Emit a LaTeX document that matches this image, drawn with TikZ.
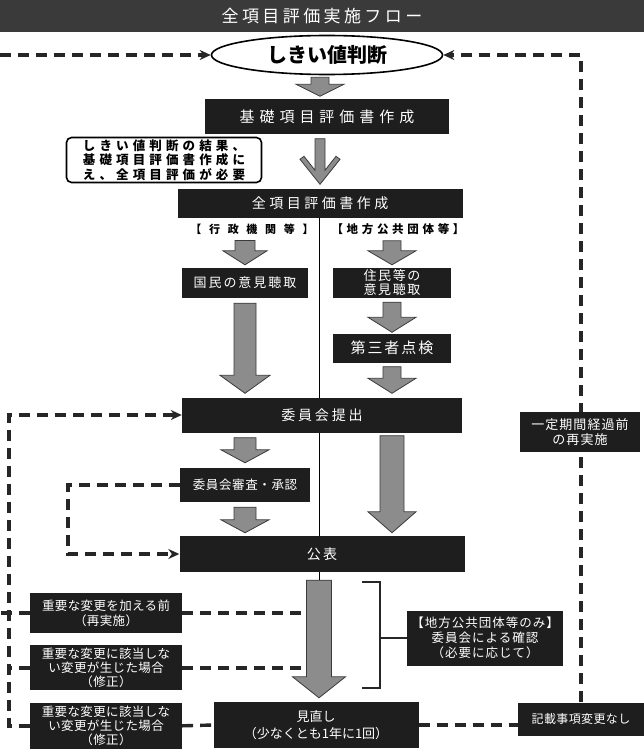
\documentclass[tikz,border=0pt]{standalone}
\usepackage{fontspec}
\newfontfamily\jp{Noto Sans CJK JP}
\newcommand{\jpfont}[3]{\jp\fontsize{#1pt}{#2pt}\selectfont\addfontfeature{LetterSpace=#3}}
\newcommand{\jpbfont}[3]{\jp\bfseries\fontsize{#1pt}{#2pt}\selectfont\addfontfeature{LetterSpace=#3}}
\usetikzlibrary{positioning,shapes.geometric,arrows.meta,backgrounds,calc}
\definecolor{boxblack}{HTML}{1E1E1E}
\definecolor{barblack}{HTML}{3A3A3A}
\definecolor{arrowgray}{HTML}{8C8C8C}
\definecolor{arrowline}{HTML}{3A3A3A}
\tikzset{blackbox/.style={rectangle,fill=boxblack,text=white,inner sep=0pt,align=center,font=\jpfont{13}{15}{12}},
	 titlebar/.style={rectangle,fill=barblack,text=white,inner sep=0pt,minimum width=644pt,minimum height=32pt,font=\jpfont{17}{20}{20}},
	 judge/.style={ellipse,draw,line width=1.6pt,fill=white,inner sep=0pt,minimum width=231pt,minimum height=39pt,font=\jpbfont{20}{24}{0}},
	 notebox/.style={rectangle,draw,line width=1.6pt,rounded corners=5pt,fill=white,inner sep=0pt,minimum width=195pt,minimum height=45pt,align=left,font=\jpbfont{12.5}{14.5}{33}},
	 headlabel/.style={inner sep=0pt,font=\jpbfont{11}{13}{40}},
	 flow/.style={line width=3.4pt,dash pattern=on 11pt off 7pt,black!85},
	 flowarrow/.style={flow,-{Stealth[length=11pt,width=10pt]}},
	 bracket/.style={line width=1.6pt,black!85},
	 fatarrow/.style n args={3}{draw=arrowline,fill=arrowgray,line width=0.8pt,
	   to path={let \p1=(\tikztostart),\p2=(\tikztotarget) in
	     (\x1-#1pt,\y1) -- (\x1+#1pt,\y1) -- (\x1+#1pt,\y2+#3pt) -- (\x1+#2pt,\y2+#3pt)
	     -- (\x1,\y2) -- (\x1-#2pt,\y2+#3pt) -- (\x1-#1pt,\y2+#3pt) -- cycle}},
	 chevarrow/.style={draw=arrowline,fill=arrowgray,line width=0.8pt,
	   to path={let \p1=(\tikztostart),\p2=(\tikztotarget) in
	     (\x1-5pt,\y1) -- (\x1+5pt,\y1) -- (\x1+5pt,\y2+14pt) -- (\x1+16pt,\y2+28pt) -- (\x1+20pt,\y2+25pt)
	     -- (\x1,\y2) -- (\x1-20pt,\y2+25pt) -- (\x1-16pt,\y2+28pt) -- (\x1-5pt,\y2+14pt) -- cycle}}
	 }
\begin{document}
\begin{tikzpicture}[x=1pt,y=-1pt] % 全項目評価の実施フロー
	\useasboundingbox (0,0) rectangle (644,749);
	\node[titlebar] (title) at (322,16) {全項目評価実施フロー};
	\node[judge] (thr) at (327,55) {しきい値判断};
	\node[blackbox,minimum width=244pt,minimum height=34pt,font=\jpfont{15}{18}{33}] (basic) [below=24pt of thr] {基礎項目評価書作成};
	\node[notebox] (need) at (164,160) {しきい値判断の結果、\\基礎項目評価書作成に\\え、全項目評価が必要};
	\node[blackbox,minimum width=285pt,minimum height=29pt,font=\jpfont{14}{17}{25}] (full) at (320,203) {全項目評価書作成};
	\node[headlabel,font=\jpbfont{11}{13}{70}] (lgov) at (252,229) {【行政機関等】};
	\node[headlabel,font=\jpbfont{11.5}{13}{32}] (lloc) at (398,229) {【地方公共団体等】};
	\node[blackbox,minimum width=126pt,minimum height=30pt,font=\jpfont{13}{15}{15}] (opin) at (245,283) {国民の意見聴取};
	\node[blackbox,minimum width=118pt,minimum height=30pt,font=\jpfont{13}{14}{12}] (resid) at (392,283) {住民等の\\意見聴取};
	\node[blackbox,minimum width=118pt,minimum height=29pt,font=\jpfont{15}{18}{13}] (third) at (392,348) {第三者点検};
	\node[blackbox,minimum width=280pt,minimum height=35pt,font=\jpfont{14}{17}{20}] (comm) at (322,415) {委員会提出};
	\node[blackbox,minimum width=130pt,minimum height=34pt,font=\jpfont{12.5}{15}{5}] (exam) at (245,485) {委員会審査・承認};
	\node[blackbox,minimum width=285pt,minimum height=36pt,font=\jpfont{14}{17}{15}] (pub) at (322,554) {公表};
	\node[blackbox,minimum width=152pt,minimum height=40pt,font=\jpfont{12.5}{15}{3}] (redo) at (106,613) {重要な変更を加える前\\（再実施）};
	\node[blackbox,minimum width=152pt,minimum height=45pt,font=\jpfont{12.5}{14}{3}] (fixa) [below=12pt of redo] {重要な変更に該当しな\\い変更が生じた場合\\（修正）};
	\node[blackbox,minimum width=152pt,minimum height=46pt,font=\jpfont{12.5}{14}{3}] (fixb) [below=12pt of fixa] {重要な変更に該当しな\\い変更が生じた場合\\（修正）};
	\node[blackbox,minimum width=205pt,minimum height=46pt,font=\jpfont{13}{17}{0}] (revw) at (316,725) {見直し\\（少なくとも1年に1回）};
	\node[blackbox,minimum width=126pt,minimum height=33pt,font=\jpfont{12}{14}{3}] (nochg) at (581,719) {記載事項変更なし};
	\node[blackbox,minimum width=156pt,minimum height=55pt,font=\jpfont{12.5}{15}{8}] (lconf) at (485,638) {【地方公共団体等のみ】\\委員会による確認\\（必要に応じて）};
	\coordinate (split) at (319,0);
	\coordinate (lx) at (9,0);
	\coordinate (rx) at (68,0);
	\coordinate (ex) at (0,55);
	\coordinate (shaft) at (305,0);
	\coordinate (brx) at (380,0);
	\coordinate (brtop) at (362,582);
	\coordinate (brbot) at (362,688);
	\begin{scope}[on background layer]
		\draw[line width=0.8pt] (full.south -| split) -- ($(pub.south -| split)+(0,10)$);
	\end{scope}
	% block arrows
	\draw[fatarrow={9}{24}{12}] ($(thr.south -| full.north)+(0,2)$) to ($(basic.north -| full.north)+(0,-3)$);
	\draw[chevarrow] ($(basic.south -| full.north)+(0,5)$) to ($(full.north)+(0,-4)$);
	\draw[fatarrow={10}{22}{14}] ($(lgov.south -| opin.north)+(0,6)$) to ($(opin.north)+(0,-3)$);
	\draw[fatarrow={11}{25}{18}] ($(opin.south)+(0,5)$) to ($(comm.north -| opin.north)+(0,-4)$);
	\draw[fatarrow={9}{24}{14}] ($(lloc.south -| resid.north)+(0,6)$) to ($(resid.north)+(0,-3)$);
	\draw[fatarrow={9}{24}{15}] ($(resid.south)+(0,4)$) to ($(third.north)+(0,-1)$);
	\draw[fatarrow={9}{24}{15}] ($(third.south)+(0,4)$) to ($(comm.north -| third.north)+(0,-4)$);
	\draw[fatarrow={11}{24}{13}] ($(comm.south -| exam.north)+(0,5)$) to ($(exam.north)+(0,-5)$);
	\draw[fatarrow={11}{24}{13}] ($(exam.south)+(0,5)$) to ($(pub.north -| exam.north)+(0,-3)$);
	\draw[fatarrow={12}{24}{21}] ($(comm.south -| third.south)+(0,3)$) to ($(pub.north -| third.south)+(0,-3)$);
	\draw[fatarrow={12.5}{26.5}{21}] ($(pub.south -| split)+(0,8)$) to ($(revw.north -| split)+(0,-4)$);
	% feedback lines
	\draw[flowarrow] (ex) -- (thr.west);
	\draw[flowarrow] (nochg.north) |- (thr.east);
	\draw[flowarrow] (fixb.west) -- (fixb.west -| lx) |- (comm.west);
	\draw[flow] (fixa.west) -- (fixa.west -| lx);
	\draw[flow] (redo.west) -- (redo.west -| ex);
	\draw[flow] (redo.east) -- (redo.east -| shaft);
	\draw[flow] (fixa.east) -- (fixa.east -| shaft);
	\draw[flow] (fixb.east) -- (revw.west);
	\draw[flow] (revw.east) -- (revw.east -| nochg.west);
	\draw[flowarrow] (exam.west) -- (exam.west -| rx) |- (pub.west);
	\draw[bracket] (brtop) -| (brx |- brbot) -- (brbot);
	\draw[bracket] (lconf.west) -- (lconf.west -| brx);
	\node[blackbox,minimum width=120pt,minimum height=40pt,font=\jpfont{13}{15}{8}] (period) at (580,432) {一定期間経過前\\の再実施};
\end{tikzpicture}
\end{document}
